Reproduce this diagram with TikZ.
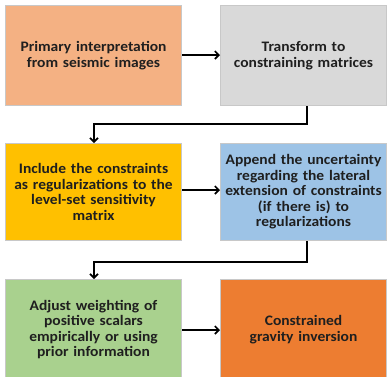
\documentclass[tikz,border=0pt]{standalone}
\usepackage{fontspec}
\setmainfont{Carlito}[FakeStretch=1.07]
\usetikzlibrary{arrows.meta}
\definecolor{c1}{HTML}{F4B183}
\definecolor{c2}{HTML}{D9D9D9}
\definecolor{c3}{HTML}{FFC000}
\definecolor{c4}{HTML}{9DC3E6}
\definecolor{c5}{HTML}{A9D18E}
\definecolor{c6}{HTML}{ED7D31}
\definecolor{bord}{HTML}{C8C8C8}
\tikzset{
  box/.style={draw=bord, line width=1pt, anchor=north west, align=center, inner sep=2pt,
    font=\fontsize{14.5}{15.5}\selectfont\bfseries, text=black!88},
  conn/.style={line width=1.6pt, -{Straight Barb[length=4pt,width=8pt,line width=1.6pt]}},
}
\begin{document}
\begin{tikzpicture}[x=1pt,y=-1pt]
\useasboundingbox (0,0) rectangle (388,376);
\node[box, fill=c1, minimum width=176pt, minimum height=100pt, text width=172pt] (b1) at (5,5) {Primary interpretation\\from seismic images};
\node[box, fill=c2, minimum width=166pt, minimum height=100pt, text width=162pt] (b2) at (220,5) {Transform to\\constraining matrices};
\node[box, fill=c3, minimum width=176pt, minimum height=97pt, text width=172pt] (b3) at (5,143) {Include the constraints\\as regularizations to the\\level-set sensitivity\\matrix};
\node[box, fill=c4, minimum width=166pt, minimum height=97pt, text width=162pt] (b4) at (220,143) {Append the uncertainty\\regarding the lateral\\extension of constraints\\(if there is) to\\regularizations};
\node[box, fill=c5, minimum width=176pt, minimum height=100pt, text width=172pt] (b5) at (5,279) {Adjust weighting of\\positive scalars\\empirically or using\\prior information};
\node[box, fill=c6, minimum width=166pt, minimum height=100pt, text width=162pt] (b6) at (220,279) {Constrained\\gravity inversion};
\coordinate (t1) at (307,124);
\coordinate (t2) at (94,124);
\coordinate (t3) at (307,262);
\coordinate (t4) at (94,262);
\draw[conn] (b1.east |- 0,55) -- (b2.west |- 0,55);
\draw[conn] (b3.east |- 0,190) -- (b4.west |- 0,190);
\draw[conn] (b5.east |- 0,330) -- (b6.west |- 0,330);
\draw[conn] (b2.south -| t1) -- (t1) -- (t2) -- (b3.north -| t2);
\draw[conn] (b4.south -| t3) -- (t3) -- (t4) -- (b5.north -| t4);
\end{tikzpicture}
\end{document}
